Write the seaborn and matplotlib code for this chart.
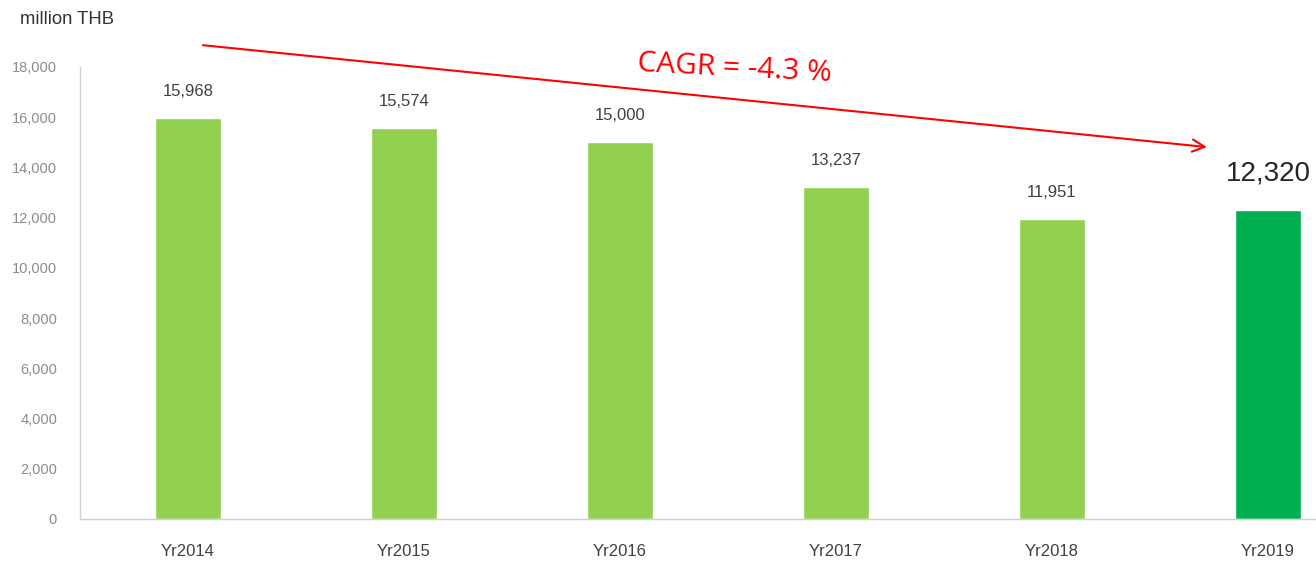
import matplotlib
matplotlib.use('Agg')
import matplotlib.pyplot as plt
import seaborn as sns
import pandas as pd

# data
years = ['Yr2014', 'Yr2015', 'Yr2016', 'Yr2017', 'Yr2018', 'Yr2019']
values = [15968, 15574, 15000, 13237, 11951, 12320]
bar_colors = ['#92D050', '#92D050', '#92D050', '#92D050', '#92D050', '#00B050']
cagr_text = 'CAGR = -4.3 %'

sns.set_theme(style='white')
plt.rcParams['font.family'] = ['Liberation Sans', 'DejaVu Sans']

df = pd.DataFrame({'Year': years, 'Value': values})

fig = plt.figure(figsize=(13.16, 5.62), dpi=100)
ax = fig.add_axes([80 / 1316, 1 - 519 / 562, 1296 / 1316, 452 / 562])

sns.barplot(data=df, x='Year', y='Value', hue='Year', palette=bar_colors,
            legend=False, width=0.31, ax=ax, saturation=1)

ax.set_xlim(-0.5, 5.5)
ax.set_ylim(0, 18000)
ax.set_yticks(range(0, 18001, 2000))
ax.set_yticklabels([f'{v:,}' for v in range(0, 18001, 2000)])
ax.tick_params(axis='y', colors='#8c8c8c', labelsize=10.5, length=0, pad=16.5)
ax.tick_params(axis='x', colors='#404040', labelsize=12, length=0, pad=18)
ax.set_xlabel('')
ax.set_ylabel('')

for s in ['top', 'right']:
    ax.spines[s].set_visible(False)
for s in ['left', 'bottom']:
    ax.spines[s].set_color('#d0d0d0')
    ax.spines[s].set_linewidth(1)

# value labels
for i, v in enumerate(values):
    if i == len(values) - 1:
        ax.text(i, v + 1450, f'{v:,}', ha='center', va='center',
                fontsize=20, color='#262626')
    else:
        ax.text(i, v + 1050, f'{v:,}', ha='center', va='center',
                fontsize=12, color='#404040')

fig.text(67 / 1316, 1 - 20 / 562, 'million THB', ha='center', va='center',
         fontsize=13.3, color='#333333')

# CAGR arrow
ax.annotate('', xy=(4.73, 14800), xytext=(0.056, 18880),
            arrowprops=dict(arrowstyle='->', color='red', lw=1.5,
                            mutation_scale=22),
            annotation_clip=False)
ax.text(2.53, 17950, cagr_text, ha='center', va='center', fontsize=21.5,
        color='red', rotation=-3, family=['Open Sans', 'DejaVu Sans'],
        clip_on=False)

fig.savefig('out.png', dpi=100)
